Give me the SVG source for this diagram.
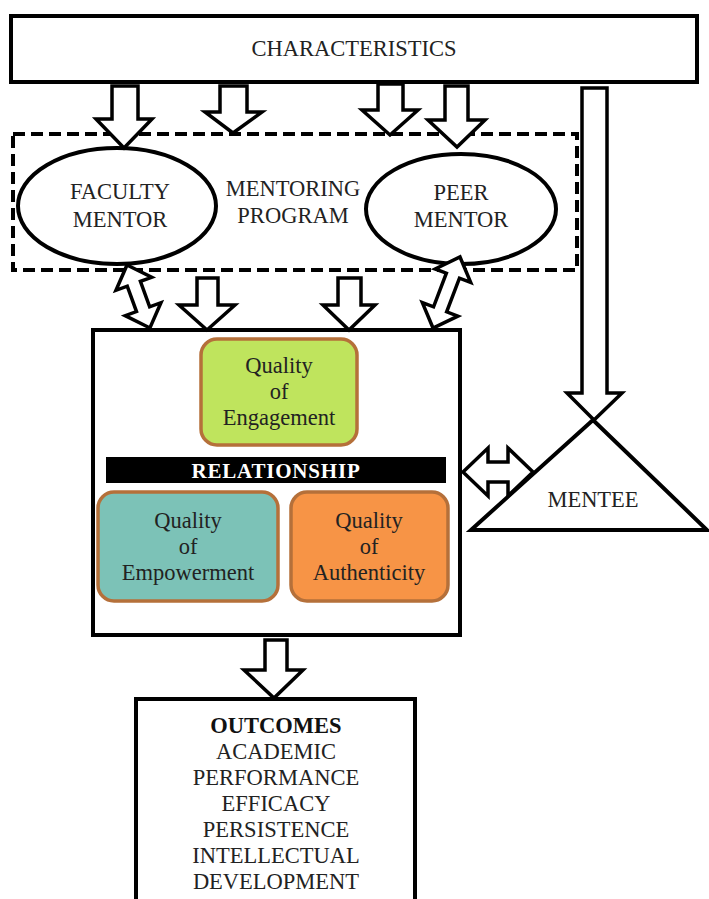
<svg xmlns="http://www.w3.org/2000/svg" width="709" height="899" viewBox="0 0 709 899">
<style>
.box{fill:#fff;stroke:#000;stroke-width:4}
.arr{fill:#fff;stroke:#000;stroke-width:3.5;stroke-linejoin:miter}
.t{font-family:"Liberation Serif","Times New Roman",serif;font-size:22.5px;fill:#222;text-anchor:middle}
.q{stroke:#b5703a;stroke-width:3.5}
</style>
<rect width="709" height="899" fill="#fff"/>

<g id="characteristics">
<rect class="box" x="11" y="16" width="686" height="66"/>
<text class="t" x="354" y="56">CHARACTERISTICS</text>
</g>

<g id="mentoring-program">
<rect x="13" y="134" width="564" height="136" fill="none" stroke="#000" stroke-width="4" stroke-dasharray="12,6"/>
<text class="t" x="293" y="196">MENTORING</text>
<text class="t" x="293" y="223">PROGRAM</text>
</g>

<g id="faculty-mentor">
<ellipse class="box" cx="117" cy="206" rx="99" ry="58" stroke-width="3.5"/>
<text class="t" x="120" y="199">FACULTY</text>
<text class="t" x="120" y="227">MENTOR</text>
</g>

<g id="peer-mentor">
<ellipse class="box" cx="461" cy="209" rx="95" ry="55" stroke-width="3.5"/>
<text class="t" x="461" y="200">PEER</text>
<text class="t" x="461" y="227">MENTOR</text>
</g>

<g id="relationship">
<rect class="box" x="93" y="330" width="367" height="305"/>
<rect class="q" x="201" y="339" width="156" height="106" rx="16" fill="#bfe45d"/>
<text class="t" x="279" y="373">Quality</text>
<text class="t" x="279" y="399">of</text>
<text class="t" x="279" y="425">Engagement</text>
<rect x="106" y="457" width="340" height="26" fill="#000"/>
<text class="t" x="276" y="478" style="fill:#fff;font-weight:bold;font-size:21px;letter-spacing:0.8px">RELATIONSHIP</text>
<rect class="q" x="98" y="492" width="180" height="109" rx="16" fill="#7cc2b7"/>
<text class="t" x="188" y="528">Quality</text>
<text class="t" x="188" y="554">of</text>
<text class="t" x="188" y="580">Empowerment</text>
<rect class="q" x="291" y="492" width="157" height="109" rx="16" fill="#f79446"/>
<text class="t" x="369" y="528">Quality</text>
<text class="t" x="369" y="554">of</text>
<text class="t" x="369" y="580">Authenticity</text>
</g>

<g id="connectors">
<polygon class="arr" points="112,86 138,86 138,119 152,119 124,148 96,119 112,119"/>
<polygon class="arr" points="220,86 247,86 247,112 262,112 233,133 205,112 220,112"/>
<polygon class="arr" points="378,84 403,84 403,110 418,110 390,135 362,110 378,110"/>
<polygon class="arr" points="445,86 468,86 468,120 485,120 457,147 428,120 445,120"/>
<polygon class="arr" points="582,88 607,88 607,393 622,393 594,420 567,393 582,393"/>
<polygon class="arr" points="197,278 218,278 218,305 235,305 207,330 179,305 197,305"/>
<polygon class="arr" points="338,278 361,278 361,305 375,305 349,330 323,305 338,305"/>
<polygon class="arr" points="265,640 287,640 287,670 303,670 274,698 244,670 265,670"/>
<polygon class="arr" transform="translate(127,265) rotate(70)" points="0,0 20,-19 20,-7 47,-7 47,-19 67,0 47,19 47,7 20,7 20,19"/>
<polygon class="arr" transform="translate(460,257) rotate(110.8)" points="0,0 20,-19 20,-7 56,-7 56,-19 76,0 56,19 56,7 20,7 20,19"/>
<polygon class="arr" points="463,472 488,448 488,462 508,462 508,448 533,472 508,496 508,482 488,482 488,496"/>
</g>

<g id="mentee">
<polygon points="593,420 471,530 707,530" fill="none" stroke="#000" stroke-width="4" stroke-linejoin="miter"/>
<text class="t" x="593" y="507">MENTEE</text>
</g>

<g id="outcomes">
<rect class="box" x="136" y="699" width="279" height="210"/>
<text class="t" x="276" y="733" style="font-weight:bold;fill:#111">OUTCOMES</text>
<text class="t" x="276" y="759">ACADEMIC</text>
<text class="t" x="276" y="785">PERFORMANCE</text>
<text class="t" x="276" y="811">EFFICACY</text>
<text class="t" x="276" y="837">PERSISTENCE</text>
<text class="t" x="276" y="863">INTELLECTUAL</text>
<text class="t" x="276" y="889">DEVELOPMENT</text>
</g>
</svg>
